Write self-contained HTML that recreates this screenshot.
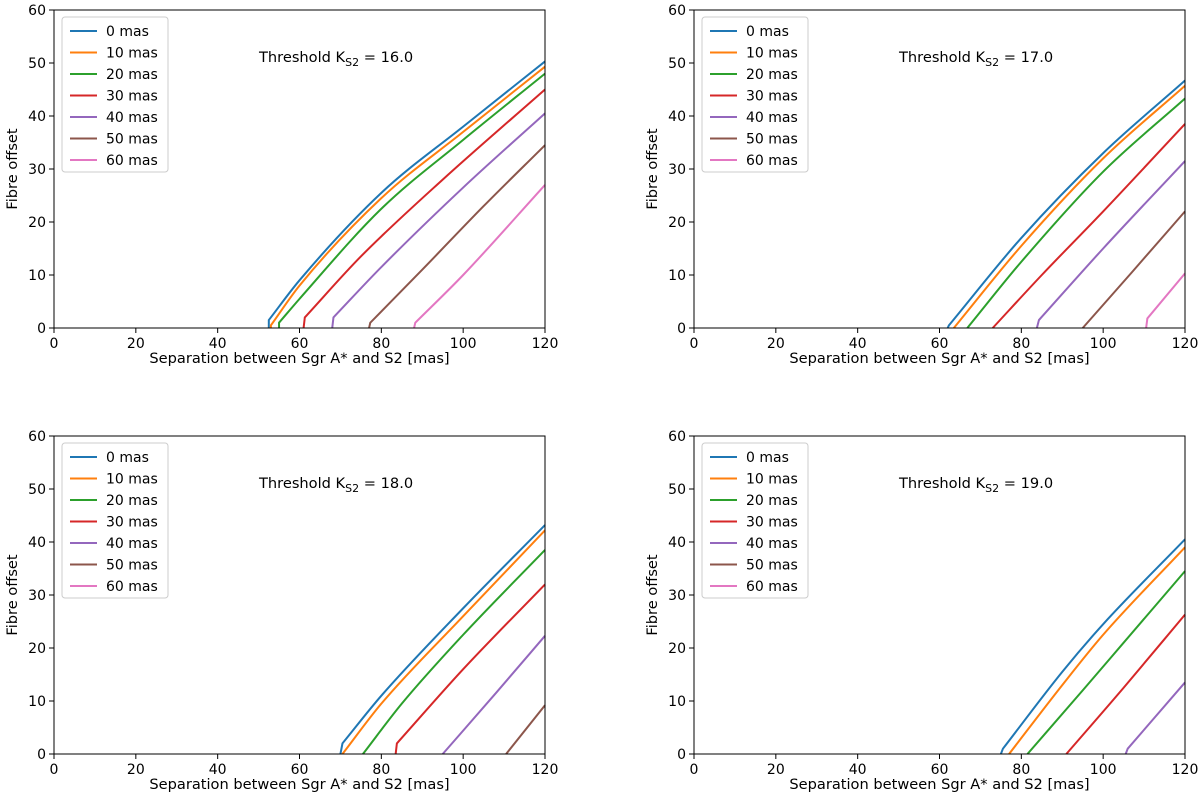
<!DOCTYPE html>
<html><head><meta charset="utf-8"><style>
body{margin:0;background:#fff}
svg text{font-family:"DejaVu Sans","Liberation Sans",sans-serif;fill:#000}
</style></head><body>
<svg id="fig" width="1200" height="802" viewBox="0 0 1200 802" xmlns="http://www.w3.org/2000/svg"></svg>
<script>
const seriesLabels=["0 mas","10 mas","20 mas","30 mas","40 mas","50 mas","60 mas"];
const colors=["#1f77b4","#ff7f0e","#2ca02c","#d62728","#9467bd","#8c564b","#e377c2"];
const xTicks=[0,20,40,60,80,100,120];
const yTicks=[0,10,20,30,40,50,60];
const thresholds=["16.0","17.0","18.0","19.0"];
const p1=[
[[52.5,0],[52.5,1.5],[60,9],[80,25.5],[100,38],[120,50.3]],
[[53,0],[53,0.5],[60,8],[80,24.5],[100,37],[120,49.3]],
[[55,0],[55,1],[60,5.5],[80,22.5],[100,35.5],[120,48]],
[[61,0],[61.3,2],[75,13.5],[95,28],[120,45]],
[[68,0],[68.3,2],[80,11.5],[100,26.5],[120,40.5]],
[[77,0],[77.3,1],[90,11],[105,23],[120,34.5]],
[[88,0],[88.3,1],[100,10],[120,27]]];
const p2=[
[[62,0],[62.3,0.5],[80,17],[100,33],[120,46.7]],
[[63.5,0],[80,15.5],[100,32],[120,45.7]],
[[66.8,0],[80,12.5],[100,29.5],[120,43.3]],
[[73,0],[85,10],[100,22],[120,38.5]],
[[83.8,0],[84.3,1.5],[100,15],[120,31.5]],
[[95,0],[107,10.5],[120,22]],
[[110.5,0],[110.8,1.8],[120,10.3]]];
const p3=[
[[70,0],[70.5,2],[80,11],[100,27.5],[120,43.2]],
[[70.5,0],[80,9.5],[100,26],[120,42.2]],
[[75.5,0],[85,9.5],[100,22.5],[120,38.5]],
[[83.5,0],[83.8,2],[100,16],[120,32]],
[[95,0],[108,11.5],[120,22.3]],
[[110.5,0],[120,9.2]],
[]];
const p4=[
[[75,0],[75.5,1],[90,15.5],[100,24.5],[120,40.5]],
[[77,0],[90,13],[100,22.5],[120,39]],
[[81.5,0],[95,12],[105,21],[120,34.5]],
[[91,0],[105,12.5],[120,26.3]],
[[105.5,0],[106,1],[120,13.5]],
[],[]];
const panelsData=[p1,p2,p3,p4];
const NS="http://www.w3.org/2000/svg";
const fig=document.getElementById('fig');
function mk(tag,attrs,parent,txt){const e=document.createElementNS(NS,tag);for(const k in attrs)e.setAttribute(k,attrs[k]);if(txt!==undefined)e.textContent=txt;parent.appendChild(e);return e;}
function monoPath(P){
 let d='M'+P[0][0]+','+P[0][1];
 let s=0;
 if(P.length>2 && Math.abs(P[1][0]-P[0][0])<3){d+=' L'+P[1][0]+','+P[1][1];s=1;}
 const Q=P.slice(s);const n=Q.length;
 if(n<3){for(let i=1;i<n;i++)d+=' L'+Q[i][0]+','+Q[i][1];return d;}
 const m=[],dl=[];
 for(let i=0;i<n-1;i++)dl.push((Q[i+1][1]-Q[i][1])/(Q[i+1][0]-Q[i][0]));
 m[0]=dl[0];m[n-1]=dl[n-2];
 for(let i=1;i<n-1;i++)m[i]=(dl[i-1]*dl[i]<=0)?0:(dl[i-1]+dl[i])/2;
 for(let i=0;i<n-1;i++){const h=Q[i+1][0]-Q[i][0];
  d+=' C'+(Q[i][0]+h/3)+','+(Q[i][1]+m[i]*h/3)+' '+(Q[i+1][0]-h/3)+','+(Q[i+1][1]-m[i+1]*h/3)+' '+Q[i+1][0]+','+Q[i+1][1];}
 return d;
}
const origins=[[54,10],[694,10],[54,436],[694,436]];
const W=491,H=318;
panelsData.forEach((pd,pi)=>{
 const [L,T]=origins[pi];
 const g=mk('g',{},fig);
 
 
 const sx=v=>L+v/120*W, sy=v=>T+H-v/60*H;
 pd.forEach((pts,si)=>{
  if(!pts.length)return;
  const p=mk('path',{d:monoPath(pts.map(q=>[sx(q[0]),sy(q[1])])),fill:'none',stroke:colors[si],'stroke-width':2},g);
  
  
 });
 const fr=mk('rect',{x:L,y:T,width:W,height:H,fill:'none',stroke:'#000','stroke-width':1},g);
 
 
 xTicks.forEach(t=>{mk('line',{x1:sx(t),x2:sx(t),y1:T+H,y2:T+H+5,stroke:'#000'},g);
  const tx=mk('text',{x:sx(t),y:T+H+20,'text-anchor':'middle','font-size':14},g,t);
  
  });
 yTicks.forEach(t=>{mk('line',{x1:L-5,x2:L,y1:sy(t),y2:sy(t),stroke:'#000'},g);
  const tx=mk('text',{x:L-8,y:sy(t)+5,'text-anchor':'end','font-size':14},g,t);
  
  });
 const xl=mk('text',{x:L+W/2,y:T+H+35,'text-anchor':'middle','font-size':14.6},g,'Separation between Sgr A* and S2 [mas]');
 
 
 const yl=mk('text',{x:0,y:0,'text-anchor':'middle','font-size':14.6,transform:`translate(${L-37},${T+H/2}) rotate(-90)`},g,'Fibre offset');
 
 
 const th=mk('text',{x:L+205,y:T+52,'font-size':14.6},g);
 
 
 th.appendChild(document.createTextNode('Threshold K'));
 mk('tspan',{'font-size':11,dy:4},th,'S2');
 mk('tspan',{dy:-4},th,' = '+thresholds[pi]);
 const lg=mk('g',{},g);
 
 
 mk('rect',{x:L+8,y:T+7,width:106,height:155,rx:3,fill:'#fff',stroke:'#ccc'},lg);
 seriesLabels.forEach((s,si)=>{
  const yy=T+21+si*21.5;
  const e=mk('g',{},lg);
  
  
  mk('line',{x1:L+16,x2:L+43,y1:yy,y2:yy,stroke:colors[si],'stroke-width':2},e);
  mk('text',{x:L+52,y:yy+5,'font-size':14},e,s);
 });
});
</script>
</body></html>
